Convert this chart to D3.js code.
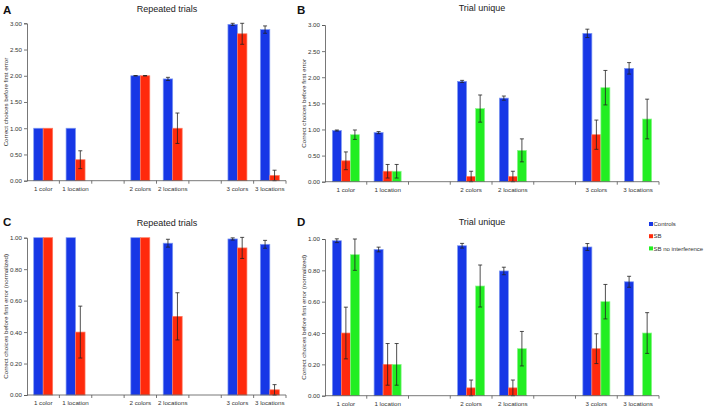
<!DOCTYPE html>
<html>
<head>
<meta charset="utf-8">
<script src="https://cdn.jsdelivr.net/npm/d3@7"></script>
<style>
  body { margin: 0; background: #fff; }
  svg { display: block; font-family: "Liberation Sans", Arial, sans-serif; }
</style>
</head>
<body>
<svg id="chart" width="708" height="407"></svg>
<script>
'use strict'
// categories (blank entries are the gaps between groups)
var categories = ["1 color", "1 location", "", "2 colors", "2 locations", "", "3 colors", "3 locations"];
var seriesNames = ["Controls", "SB", "SB no interference"];
var seriesColors = ["#1737e6", "#ff2a0c", "#22ee22"];
var seriesEdges = ["#7f9af2", "#ff7a60", "#8ff58f"];

// A - repeated trials
var aControls    = [1.00, 1.00, null, 2.00, 1.94, null, 2.98, 2.88];
var aControlsErr = [0.00, 0.00, null, 0.005, 0.03, null, 0.02, 0.07];
var aSB          = [1.00, 0.40, null, 2.00, 1.00, null, 2.80, 0.10];
var aSBErr       = [0.00, 0.17, null, 0.005, 0.29, null, 0.20, 0.10];

// B - trial unique
var bControls    = [0.98, 0.94, null, 1.92, 1.60, null, 2.84, 2.17];
var bControlsErr = [0.01, 0.02, null, 0.02, 0.04, null, 0.08, 0.11];
var bSB          = [0.40, 0.20, null, 0.10, 0.10, null, 0.90, 0];
var bSBErr       = [0.17, 0.13, null, 0.10, 0.10, null, 0.28, 0];
var bSBNoInt     = [0.90, 0.20, null, 1.40, 0.60, null, 1.80, 1.20];
var bSBNoIntErr  = [0.09, 0.13, null, 0.26, 0.22, null, 0.33, 0.38];

// C - repeated trials, normalized
var cControls    = [1.00, 1.00, null, 1.00, 0.965, null, 0.992, 0.958];
var cControlsErr = [0.00, 0.00, null, 0.00, 0.025, null, 0.007, 0.025];
var cSB          = [1.00, 0.40, null, 1.00, 0.50, null, 0.935, 0.033];
var cSBErr       = [0.00, 0.165, null, 0.00, 0.15, null, 0.067, 0.033];

// D - trial unique, normalized
var dControls    = [0.989, 0.933, null, 0.957, 0.796, null, 0.949, 0.727];
var dControlsErr = [0.012, 0.015, null, 0.015, 0.024, null, 0.022, 0.035];
var dSB          = [0.40, 0.20, null, 0.05, 0.05, null, 0.30, 0];
var dSBErr       = [0.165, 0.133, null, 0.05, 0.05, null, 0.095, 0];
var dSBNoInt     = [0.90, 0.20, null, 0.70, 0.30, null, 0.60, 0.40];
var dSBNoIntErr  = [0.10, 0.133, null, 0.134, 0.11, null, 0.11, 0.13];

var ticksTop = [0, 0.5, 1, 1.5, 2, 2.5, 3];
var ticksBottom = [0, 0.2, 0.4, 0.6, 0.8, 1];

var panels = [
  {letter: "A", title: "Repeated trials", ylabel: "Correct choices before first error",
   left: 27, right: 286, top: 23.3, bottom: 180.7, max: 3, ticks: ticksTop, frac: 0.293,
   titleX: 167, titleY: 11.7, letterX: 3, letterY: 14,
   series: [[aControls, aControlsErr], [aSB, aSBErr]]},
  {letter: "B", title: "Trial unique", ylabel: "Correct choices before first error",
   left: 325, right: 659, top: 25, bottom: 181.7, max: 3, ticks: ticksTop, frac: 0.216,
   titleX: 482, titleY: 10.5, letterX: 297, letterY: 14,
   series: [[bControls, bControlsErr], [bSB, bSBErr], [bSBNoInt, bSBNoIntErr]]},
  {letter: "C", title: "Repeated trials", ylabel: "Correct choices before first error (normalized)",
   left: 27, right: 286, top: 237.7, bottom: 395, max: 1, ticks: ticksBottom, frac: 0.293,
   titleX: 167, titleY: 226, letterX: 3, letterY: 226,
   series: [[cControls, cControlsErr], [cSB, cSBErr]]},
  {letter: "D", title: "Trial unique", ylabel: "Correct choices before first error (normalized)",
   left: 325, right: 659, top: 239, bottom: 395.7, max: 1, ticks: ticksBottom, frac: 0.216,
   titleX: 482, titleY: 225, letterX: 297, letterY: 226,
   series: [[dControls, dControlsErr], [dSB, dSBErr], [dSBNoInt, dSBNoIntErr]]}
];

var svg = d3.select("#chart");
var axisColor = "#555";

panels.forEach(function(p){
  var g = svg.append("g");
  var x0 = d3.scaleBand().domain(d3.range(categories.length)).range([p.left, p.right]);
  var y = d3.scaleLinear().domain([0, p.max]).range([p.bottom, p.top]);
  var n = p.series.length;
  var barW = x0.bandwidth() * p.frac;
  var groupW = barW * n;
  var x1 = d3.scaleBand().domain(d3.range(n))
             .range([(x0.bandwidth() - groupW) / 2, (x0.bandwidth() + groupW) / 2]);

  // bars
  p.series.forEach(function(s, si){
    var vals = s[0], errs = s[1];
    var rows = categories.map(function(c, i){ return {i: i, v: vals[i], e: errs[i]}; })
                         .filter(function(d){ return d.v !== null && d.v > 0; });
    g.append("g").selectAll("rect").data(rows).join("rect")
      .attr("x", function(d){ return x0(d.i) + x1(si); })
      .attr("y", function(d){ return y(d.v); })
      .attr("width", x1.bandwidth())
      .attr("height", function(d){ return y(0) - y(d.v); })
      .attr("fill", seriesColors[si])
      .attr("stroke", seriesEdges[si])
      .attr("stroke-width", 0.7);

    // error bars
    var eg = g.append("g").attr("stroke", "#222").attr("stroke-width", 0.8);
    rows.filter(function(d){ return d.e > 0.004; }).forEach(function(d){
      var cx = x0(d.i) + x1(si) + x1.bandwidth() / 2;
      var hi = y(d.v + d.e), lo = y(Math.max(0, d.v - d.e));
      eg.append("line").attr("x1", cx).attr("x2", cx).attr("y1", hi).attr("y2", lo);
      eg.append("line").attr("x1", cx - 2).attr("x2", cx + 2).attr("y1", hi).attr("y2", hi);
      eg.append("line").attr("x1", cx - 2).attr("x2", cx + 2).attr("y1", lo).attr("y2", lo);
    });
  });

  // y axis
  var yAxis = d3.axisLeft(y).tickValues(p.ticks).tickFormat(d3.format(".2f")).tickSize(3).tickPadding(2);
  var ya = g.append("g").attr("transform", "translate(" + p.left + ",0)").call(yAxis);
  ya.select(".domain").attr("stroke", axisColor).attr("stroke-width", 0.8);
  ya.selectAll(".tick line").attr("stroke", axisColor).attr("stroke-width", 0.8);
  ya.selectAll("text").attr("font-size", 6.2).attr("fill", "#333")
    .attr("font-family", "Liberation Sans, Arial, sans-serif");

  // x axis
  var xa = g.append("g");
  xa.append("line").attr("x1", p.left).attr("x2", p.right)
    .attr("y1", p.bottom).attr("y2", p.bottom)
    .attr("stroke", axisColor).attr("stroke-width", 0.8);
  xa.selectAll(".xt").data(d3.range(1, categories.length + 1)).join("line")
    .attr("x1", function(i){ return p.left + i * x0.step(); })
    .attr("x2", function(i){ return p.left + i * x0.step(); })
    .attr("y1", p.bottom).attr("y2", p.bottom + 3)
    .attr("stroke", axisColor).attr("stroke-width", 0.8);
  xa.selectAll("text").data(categories.map(function(c, i){ return {c: c, i: i}; })
                                  .filter(function(d){ return d.c; }))
    .join("text")
    .attr("x", function(d){ return x0(d.i) + x0.bandwidth() / 2; })
    .attr("y", p.bottom + 10)
    .attr("text-anchor", "middle")
    .attr("font-size", 6.2).attr("fill", "#333")
    .text(function(d){ return d.c; });

  // y label
  g.append("text")
    .attr("transform", "translate(" + (p.left - 19) + "," + ((p.top + p.bottom) / 2) + ") rotate(-90)")
    .attr("text-anchor", "middle")
    .attr("font-size", 6.2).attr("fill", "#333")
    .text(p.ylabel);

  // title and letter
  g.append("text")
    .attr("x", p.titleX).attr("y", p.titleY)
    .attr("text-anchor", "middle").attr("font-size", 9).attr("fill", "#222")
    .text(p.title);
  g.append("text")
    .attr("x", p.letterX).attr("y", p.letterY)
    .attr("font-size", 11.5).attr("font-weight", "bold").attr("fill", "#111")
    .text(p.letter);
});

// legend
var legend = svg.append("g").attr("transform", "translate(649,224)");
seriesNames.forEach(function(name, i){
  var row = legend.append("g").attr("transform", "translate(0," + (i * 12.2) + ")");
  row.append("rect").attr("x", 0).attr("y", -2).attr("width", 4).attr("height", 4)
    .attr("fill", seriesColors[i]);
  row.append("text").attr("x", 4.5).attr("y", 2.2)
    .attr("font-size", 6).attr("fill", "#333").text(name);
});
</script>
</body>
</html>
